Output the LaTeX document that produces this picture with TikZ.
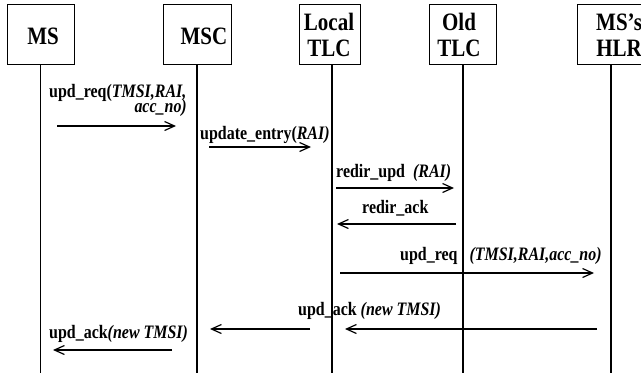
\documentclass[tikz,border=0pt]{standalone}
\usepackage{fontspec}
\usepackage{graphicx}
\setmainfont{Liberation Serif}
\usetikzlibrary{arrows.meta}
\newcommand{\ttl}[1]{\scalebox{0.84}[1]{#1}}
\tikzset{
  ent/.style={draw, line width=0.9pt, minimum width=#1, minimum height=60pt, inner sep=0pt, outer sep=0pt},
  ttlnode/.style={inner sep=0pt, font=\fontsize{25}{26}\selectfont\bfseries, align=center},
  life/.style={line width=1.3pt},
  msg/.style={line width=1.2pt, -{Straight Barb[length=10pt,width=9pt,line width=1.2pt]}},
  lbl/.style={inner sep=0pt, font=\fontsize{19}{20}\selectfont\bfseries},
}
\begin{document}
\begin{tikzpicture}[x=1pt,y=-1pt]
\useasboundingbox (0,0) rectangle (641,373);
\clip (0,0) rectangle (641,373);
% boxes
\node[ent=67pt] (bMS)  at (40.5,34) {};
\node[ent=68pt] (bMSC) at (197,34) {};
\node[ent=61pt] (bLoc) at (329.5,34) {};
\node[ent=67pt] (bOld) at (462.5,34) {};
\node[ent=68pt] (bHLR) at (611,34) {};
% titles
\node[ttlnode] (tMS)  at (43,36.5) {\ttl{MS}};
\node[ttlnode] (tMSC) at (204,36.5) {\ttl{MSC}};
\node[ttlnode] (tLoc) at (329,35) {\ttl{Local}\\\ttl{TLC}};
\node[ttlnode] (tOld) at (459,35) {\ttl{Old}\\\ttl{TLC}};
\node[ttlnode, anchor=west] (tHLR) at (596,35) {\ttl{MS’s}\\\ttl{HLR}};
% lifelines
\coordinate (eMS)  at (40.5,373);
\coordinate (eMSC) at (197,373);
\coordinate (eLoc) at (332,373);
\coordinate (eOld) at (463,373);
\coordinate (eHLR) at (611,373);
\draw[life] (bMS.south)  -- (eMS);
\draw[life] (bMSC.south) -- (eMSC);
\draw[life] (bLoc.south -| eLoc) -- (eLoc);
\draw[life] (bOld.south -| eOld) -- (eOld);
\draw[life] (bHLR.south) -- (eHLR);
% labels
\node[lbl, anchor=base west] (l1a) at (49,97) {\ttl{upd\_req(\textit{TMSI,RAI,}}};
\node[lbl, anchor=base east] (l1b) at (187,112) {\ttl{\textit{acc\_no)}}};
\node[lbl, anchor=base west] (l2) at (200,139) {\ttl{update\_entry(\textit{RAI)}}};
\node[lbl, anchor=base west] (l3) at (336,177) {\ttl{redir\_upd\ \ \textit{(RAI)}}};
\node[lbl, anchor=base west] (l4) at (362,213) {\ttl{redir\_ack}};
\node[lbl, anchor=base west] (l5) at (400,260) {\ttl{upd\_req\ \ \ \textit{(TMSI,RAI,acc\_no)}}};
\node[lbl, anchor=base west] (l6) at (298,315) {\ttl{upd\_ack \textit{(new TMSI)}}};
\node[lbl, anchor=base west] (l7) at (49,338) {\ttl{upd\_ack\textit{(new TMSI)}}};
% arrow end points
\coordinate (a1s) at (57,126);  \coordinate (a1e) at (176,126);
\coordinate (a2s) at (209,147); \coordinate (a2e) at (311,147);
\coordinate (a3s) at (336,188); \coordinate (a3e) at (454,188);
\coordinate (a4s) at (456,224); \coordinate (a4e) at (337,224);
\coordinate (a5s) at (340,273); \coordinate (a5e) at (594,273);
\coordinate (a6s) at (597,329); \coordinate (a6e) at (345,329);
\coordinate (a7s) at (310,329); \coordinate (a7e) at (210,329);
\coordinate (a8s) at (172,350); \coordinate (a8e) at (53,350);
\draw[msg] (a1s) -- (a1e);
\draw[msg] (a2s) -- (a2e);
\draw[msg] (a3s) -- (a3e);
\draw[msg] (a4s) -- (a4e);
\draw[msg] (a5s) -- (a5e);
\draw[msg] (a6s) -- (a6e);
\draw[msg] (a7s) -- (a7e);
\draw[msg] (a8s) -- (a8e);
\end{tikzpicture}
\end{document}
